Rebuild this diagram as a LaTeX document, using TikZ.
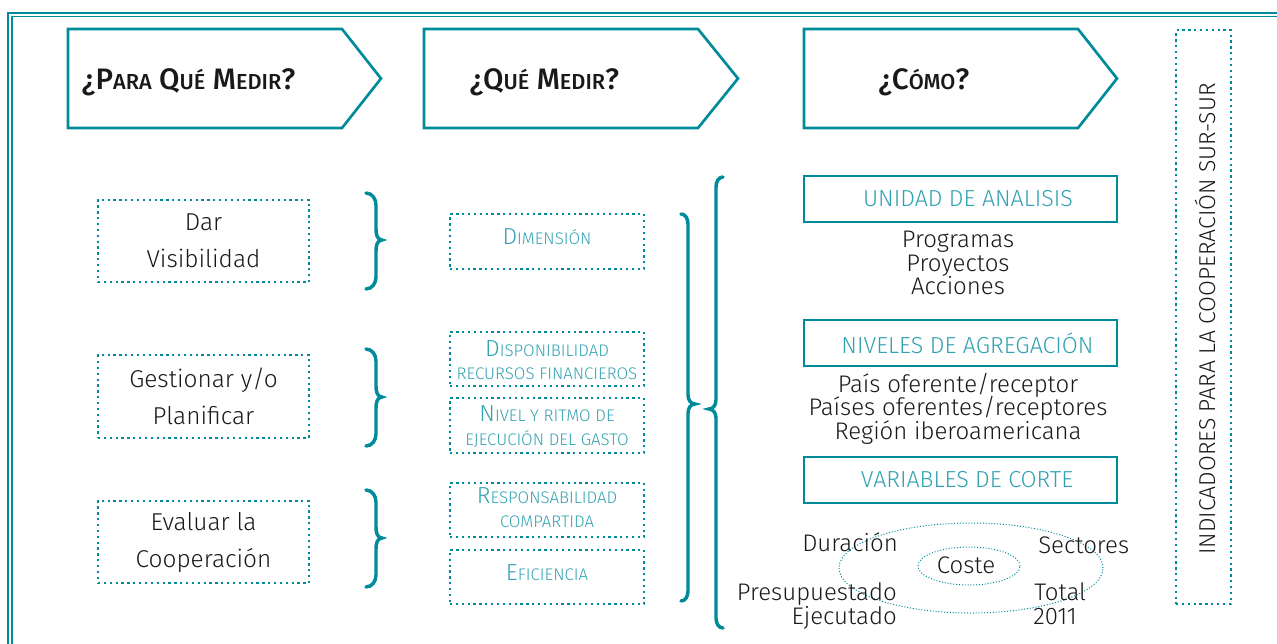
\documentclass[tikz,border=0pt]{standalone}
\usepackage{fontspec}
\setmainfont{Fira Sans}[UprightFont=* Light, BoldFont=* Medium]
\usetikzlibrary{shapes.geometric}
\definecolor{tealline}{RGB}{0,139,155}
\definecolor{tealtxt}{RGB}{50,162,178}
\definecolor{ink}{RGB}{25,25,25}
\newcommand\hsc[2]{#1{\fontsize{16.3}{16.3}\selectfont #2}}
\newcommand\msc[2]{#1{\fontsize{12.6}{12.6}\selectfont #2}}
\newcommand\msm[1]{{\fontsize{12.6}{12.6}\selectfont #1}}
\tikzset{
  frameline/.style={draw=tealline, line width=1.1pt},
  hdr/.style={draw=tealline, line width=2pt, line join=miter},
  hdrtext/.style={font=\bfseries\fontsize{22.2}{22.2}\selectfont, text=ink, anchor=base, inner sep=0pt},
  dotbox/.style={draw=tealline, line width=1.7pt, dash pattern=on 1.7pt off 2.7pt, inner sep=0pt},
  leftbox/.style={dotbox, minimum width=158.25pt, minimum height=62pt, align=center, text=ink,
    font=\fontsize{18.3}{27.75}\selectfont},
  midbox/.style={dotbox, minimum width=145.5pt, minimum height=41pt},
  midtext/.style={text=tealtxt, font=\fontsize{17.4}{17.4}\selectfont, anchor=base, inner sep=0pt},
  solbox/.style={draw=tealline, line width=1.6pt, minimum width=234.75pt, minimum height=34.5pt, inner sep=0pt},
  boxtitle/.style={text=tealtxt, font=\fontsize{17.4}{17.4}\selectfont, inner sep=0pt},
  body/.style={text=ink, font=\fontsize{18}{18}\selectfont, anchor=base, inner sep=0pt},
  brc/.style={draw=tealline, line width=2.6pt, line cap=round},
  ell/.style={draw=tealline, line width=0.75pt, dash pattern=on 0.75pt off 1.4pt, ellipse, inner sep=0pt},
}
\begin{document}
\begin{tikzpicture}[x=0.75pt,y=-0.75pt]
\useasboundingbox (0,0) rectangle (1277,643);
% outer frame
\draw[frameline] (8,700) -- (8,13) -- (1300,13);
\draw[frameline] (12,700) -- (12,16.5) -- (1300,16.5);
% headers
\draw[hdr] (68,29) -- (342,29) -- (381,78.5) -- (342,128) -- (68,128) -- cycle;
\draw[hdr] (424,29) -- (698,29) -- (738,78.5) -- (698,128) -- (424,128) -- cycle;
\draw[hdr] (804,29) -- (1078,29) -- (1117,78.5) -- (1078,128) -- (804,128) -- cycle;
\node[hdrtext] (h1) at (188.5,89) {¿\hsc{P}{ARA} \hsc{Q}{UÉ} \hsc{M}{EDIR}?};
\node[hdrtext] (h2) at (544.5,89) {¿\hsc{Q}{UÉ} \hsc{M}{EDIR}?};
\node[hdrtext] (h3) at (924,89) {¿\hsc{C}{ÓMO}?};
% left boxes
\node[leftbox] (dar) at (203.5,241) {Dar\\Visibilidad};
\node[leftbox] (gest) at (203.5,396.5) {Gestionar y/o\\Planificar};
\node[leftbox] (eval) at (203.5,542) {Evaluar la\\Cooperación};
% small braces
\draw[brc] (366,193) to[out=0,in=90] (376,205) -- (376,229) to[out=-90,in=180] (382,240) to[out=180,in=90] (376,251) -- (376,277) to[out=-90,in=0] (366,289);
\draw[brc] (366,349) to[out=0,in=90] (376,361) -- (376,386) to[out=-90,in=180] (382,397) to[out=180,in=90] (376,408) -- (376,434) to[out=-90,in=0] (366,446);
\draw[brc] (366,490) to[out=0,in=90] (376,502) -- (376,527) to[out=-90,in=180] (382,538) to[out=180,in=90] (376,549) -- (376,575) to[out=-90,in=0] (366,587);
% middle boxes
\node[midbox] (dim) at (547,241.5) {};
\node[midbox] (disp) at (547,359) {};
\node[midbox] (niv) at (547,425.5) {};
\node[midbox] (resp) at (547,510) {};
\node[midbox] (efi) at (547,577) {};
\node[midtext] (dimt) at (547,244) {\msc{D}{IMENSIÓN}};
\node[midtext] (disp1) at (547,356) {\msc{D}{ISPONIBILIDAD}};
\node[midtext] (disp2) at (547,379) {\msm{RECURSOS FINANCIEROS}};
\node[midtext] (niv1) at (547,421) {\msc{N}{IVEL Y RITMO DE}};
\node[midtext] (niv2) at (547,445) {\msm{EJECUCIÓN DEL GASTO}};
\node[midtext] (resp1) at (547,503) {\msc{R}{ESPONSABILIDAD}};
\node[midtext] (resp2) at (547,527) {\msm{COMPARTIDA}};
\node[midtext] (efit) at (547,580) {\msc{E}{FICIENCIA}};
% big braces
\draw[brc] (681,214) to[out=0,in=90] (688,224) -- (688,395) to[out=-90,in=180] (695,404) to[out=180,in=90] (688,413) -- (688,591) to[out=-90,in=0] (681,601);
\draw[brc] (723,177) to[out=180,in=90] (716,187) -- (716,400) to[out=-90,in=0] (709,409) to[out=0,in=90] (716,418) -- (716,618) to[out=-90,in=180] (723,628);
% right column
\node[solbox] (unidad) at (960.5,199) {};
\node[boxtitle] (unidadt) at (968,199) {UNIDAD DE ANALISIS};
\node[body] (prog) at (958,247) {Programas};
\node[body] (proy) at (958,271) {Proyectos};
\node[body] (acc) at (958,294) {Acciones};
\node[solbox] (niveles) at (960.5,343) {};
\node[boxtitle] (nivelest) at (967.5,343) {NIVELES DE AGREGACIÓN};
\node[body] (pais1) at (958,392) {País oferente/receptor};
\node[body] (pais2) at (958,415.5) {Países oferentes/receptores};
\node[body] (region) at (958,439) {Región iberoamericana};
\node[solbox] (variables) at (960.5,480) {};
\node[boxtitle] (variablest) at (967,480) {VARIABLES DE CORTE};
\node[ell, minimum width=198pt, minimum height=67.5pt] (outer) at (971,568) {};
\node[ell, minimum width=76.5pt, minimum height=28.5pt] (coste) at (969,566) {};
\node[body] (costet) at (966,573) {Coste};
\node[body, anchor=base west] (dur) at (802,551) {Duración};
\node[body, anchor=base west] (sect) at (1038,553) {Sectores};
\node[body, anchor=base east] (pres) at (897,600) {Presupuestado};
\node[body, anchor=base east] (ejec) at (897,624) {Ejecutado};
\node[body, anchor=base west] (total) at (1034,600) {Total};
\node[body, anchor=base west] (year) at (1033,624) {2011};
% vertical box
\node[dotbox, minimum width=41.25pt, minimum height=430pt] (ind) at (1203.5,317) {};
\node[rotate=90, text=ink, font=\fontsize{17.2}{17.2}\selectfont, inner sep=0pt] (indt) at (1205,319) {INDICADORES PARA LA COOPERACIÓN SUR-SUR};
\end{tikzpicture}
\end{document}
